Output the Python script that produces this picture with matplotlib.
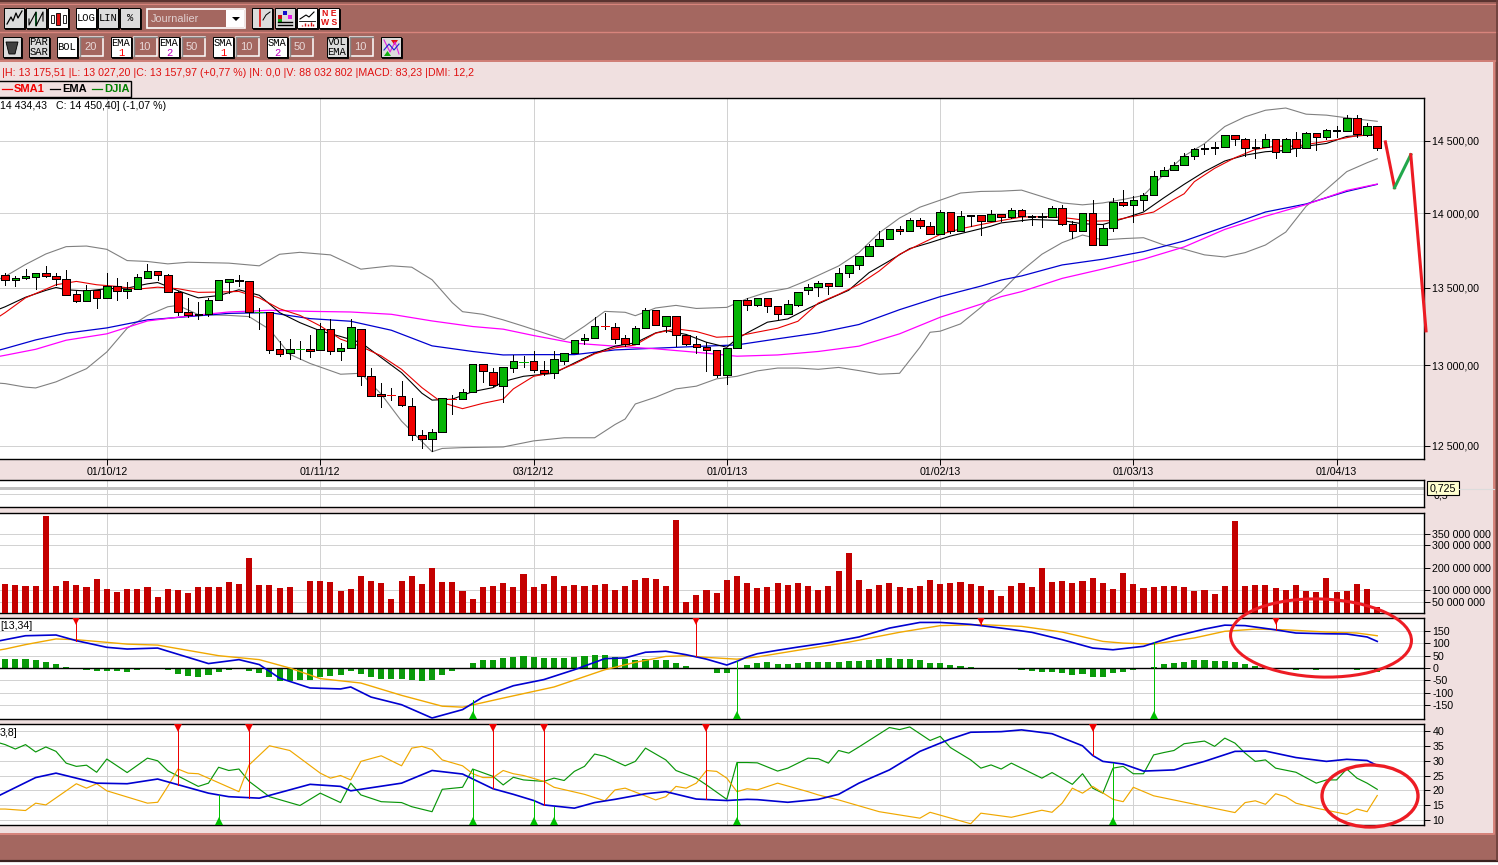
import matplotlib
matplotlib.use("Agg")
import matplotlib.pyplot as plt
from matplotlib.patches import Rectangle, Ellipse, Polygon

plt.rcParams['font.family'] = ['Liberation Sans', 'DejaVu Sans']
plt.rcParams['axes.unicode_minus'] = False

W, H = 1498, 865

# daily candles, DJIA
opens = [13586,13548,13562,13568,13597,13577,13557,13459,13412,13485,13432,13511,13476,13491,13564,13610,13584,13472,13344,13331,
         13331,13421,13537,13548,13544,13342,13344,13107,13079,13105,13107,13100,13235,13094,13113,13229,12935,12817,12816,12810,
         12748,12567,12542,12585,12788,12790,12833,13011,12960,12873,12981,13022,13030,12969,12950,13026,13077,13160,13173,13252,
         13244,13173,13139,13237,13353,13250,13315,13192,13139,13115,13096,12938,13109,13417,13389,13436,13378,13331,13389,13484,
         13504,13533,13511,13598,13651,13713,13777,13826,13893,13880,13953,13913,13860,14006,13880,13986,13986,13946,13993,13971,
         14021,13978,13978,13973,14035,13927,13880,14000,13787,13898,14076,14056,14090,14125,14257,14299,14333,14396,14444,14451,
         14458,14542,14514,14458,14458,14514,14424,14514,14449,14556,14528,14572,14572,14660,14544,14604]
highs = [13597,13577,13625,13597,13643,13597,13619,13476,13520,13485,13599,13566,13535,13592,13658,13610,13590,13480,13432,13406,
         13434,13551,13557,13586,13544,13370,13344,13158,13167,13154,13192,13269,13295,13141,13295,13229,12981,12892,12860,12900,
         12798,12598,12606,12796,12812,12850,13011,13011,12981,12987,13068,13058,13088,13026,13088,13077,13160,13201,13308,13336,
         13271,13194,13252,13368,13353,13315,13315,13200,13184,13147,13096,13109,13417,13430,13436,13436,13378,13417,13473,13522,
         13547,13533,13633,13653,13713,13793,13880,13893,13911,13966,13966,13940,14021,14006,14017,13986,13986,14021,13993,14035,
         14030,13985,14002,14046,14053,13944,14000,14086,13922,14104,14155,14116,14137,14287,14319,14354,14417,14451,14481,14491,
         14542,14542,14523,14516,14551,14514,14521,14563,14563,14556,14585,14609,14683,14683,14625,14604]
lows = [13520,13513,13557,13494,13568,13520,13451,13406,13412,13367,13432,13419,13436,13491,13564,13548,13472,13320,13312,13295,
        13316,13421,13466,13509,13308,13231,13077,13060,13040,13038,13051,13100,13070,13034,13113,12877,12810,12740,12781,12746,
        12538,12487,12467,12585,12696,12790,12833,12896,12867,12769,12960,12987,12960,12942,12921,13009,13077,13139,13173,13229,
        13143,13120,13139,13237,13256,13212,13122,13130,13077,12967,12925,12885,13109,13357,13378,13344,13288,13331,13382,13459,
        13447,13461,13511,13569,13622,13713,13777,13826,13857,13880,13897,13860,13860,13862,13880,13915,13853,13946,13944,13967,
        13949,13918,13904,13973,13918,13831,13880,13787,13787,13878,14046,13938,14023,14125,14257,14299,14333,14370,14405,14410,
        14458,14468,14396,14377,14458,14377,14424,14391,14449,14438,14516,14526,14572,14528,14532,14438]
closes = [13548,13564,13577,13597,13575,13555,13451,13412,13485,13432,13511,13476,13491,13570,13610,13581,13472,13344,13323,13323,
          13421,13551,13557,13542,13344,13344,13100,13075,13107,13107,13092,13235,13094,13113,13248,12935,12810,12810,12814,12754,
          12567,12542,12585,12796,12786,12833,13011,12965,12877,12987,13026,13024,12969,12954,13038,13077,13160,13173,13250,13250,
          13171,13139,13237,13353,13256,13315,13192,13139,13115,13096,12938,13109,13417,13389,13436,13382,13331,13391,13473,13507,
          13533,13511,13600,13653,13713,13777,13826,13893,13877,13953,13915,13860,14006,13877,13977,13982,13946,13993,13973,14021,
          13978,13971,13971,14035,13927,13880,14000,13787,13900,14076,14056,14090,14125,14257,14299,14333,14396,14444,14451,14458,
          14542,14514,14451,14451,14514,14424,14514,14449,14556,14526,14579,14579,14660,14546,14604,14451]

# overlays on the price panel, read every few sessions (the -1 point runs off the left edge)
bol_up_x = [-1,0,2,4,6,8,10,12,14,16,18,22,25,27,29,32,35,38,40,42,44,45,47,49,51,53,55,57,59,61,62,64,66,68,71,73,75,77,79,82,84,86,88,90,92,94,96,98,100,102,104,106,108,110,112,114,116,118,120,122,124,126,128,130,132,135]
bol_up = [13545,13575,13654,13724,13773,13777,13755,13680,13674,13658,13669,13663,13645,13722,13735,13718,13623,13645,13636,13553,13402,13344,13327,13291,13250,13207,13164,13250,13346,13340,13318,13368,13385,13365,13372,13429,13472,13496,13551,13644,13733,13866,13966,14040,14088,14137,14148,14150,14157,14113,14069,14056,14069,14093,14120,14266,14394,14481,14602,14671,14718,14734,14690,14683,14664,14639]
bol_lo_x = [-1,0,2,3,5,8,10,12,14,16,17,19,22,24,26,28,30,33,35,37,39,41,42,43,45,49,52,55,58,60,61,62,64,66,68,70,72,74,76,78,80,82,84,86,88,90,91,92,94,96,97,98,100,102,104,106,108,110,112,114,116,118,120,122,124,126,128,130,132,134,135]
bol_lo = [12890,12885,12863,12858,12896,12979,13085,13237,13320,13376,13385,13325,13320,13312,13230,13070,13012,12944,12950,12819,12652,12527,12465,12485,12490,12494,12531,12550,12550,12631,12665,12758,12800,12852,12869,12915,12931,12965,12983,12983,12975,12987,12967,12944,12950,13115,13211,13218,13265,13372,13436,13475,13611,13722,13800,13851,13818,13827,13833,13784,13756,13718,13704,13733,13784,13871,14046,14162,14285,14347,14375]
ema50_x = [-1,0,3,6,10,14,18,22,26,30,34,38,42,46,49,52,56,60,64,68,72,76,80,84,88,92,96,98,100,104,108,112,116,120,124,128,132,135]
ema50 = [13090,13107,13162,13205,13239,13291,13312,13333,13338,13299,13282,13224,13124,13088,13066,13068,13068,13098,13109,13120,13130,13169,13207,13261,13357,13442,13511,13551,13578,13651,13689,13740,13811,13907,14007,14062,14148,14197]
sma50_x = [-1,0,3,6,10,14,18,22,26,30,34,38,42,46,49,52,56,60,64,68,72,76,80,84,88,92,96,98,100,104,108,112,116,120,124,128,132,135]
sma50 = [13052,13064,13102,13160,13201,13284,13316,13342,13353,13346,13342,13327,13284,13248,13231,13190,13141,13122,13105,13083,13058,13066,13088,13122,13201,13308,13393,13442,13475,13562,13624,13689,13771,13889,13978,14058,14155,14199]
ema10_x = [-1,0,2,4,5,6,8,10,12,14,15,17,19,21,23,25,27,29,31,33,35,37,39,41,42,44,46,48,49,51,53,54,56,58,60,62,64,65,67,69,71,72,73,75,77,79,81,83,85,87,89,91,93,95,97,98,101,104,106,108,110,112,114,116,118,120,122,124,126,128,130,132,135]
ema10 = [13350,13376,13438,13483,13502,13487,13479,13494,13498,13526,13535,13481,13434,13449,13487,13451,13338,13273,13220,13184,13145,13049,12954,12825,12782,12788,12835,12860,12898,12931,12944,12950,13015,13077,13122,13143,13207,13222,13197,13147,13115,13169,13207,13276,13297,13365,13425,13484,13600,13678,13760,13800,13844,13877,13911,13933,13956,13949,13927,13922,13962,14007,14104,14197,14285,14359,14400,14424,14433,14463,14482,14532,14544]
sma10_x = [-1,0,2,4,5,7,9,11,13,15,17,19,21,23,25,27,29,31,33,35,37,39,41,43,45,47,49,50,52,54,56,58,60,62,64,66,68,70,72,74,76,78,80,82,84,86,88,90,92,94,96,98,100,103,105,107,109,111,113,115,116,117,119,121,123,125,127,129,131,133,135]
sma10 = [13295,13338,13434,13491,13520,13542,13520,13509,13491,13504,13494,13470,13472,13476,13434,13363,13320,13252,13167,13120,13060,12975,12860,12766,12729,12762,12788,12852,12931,12956,13009,13073,13111,13130,13205,13233,13216,13179,13186,13212,13237,13282,13400,13457,13522,13611,13722,13789,13855,13893,13922,13949,13973,13976,13962,13944,13949,13978,14007,14093,14132,14215,14308,14382,14440,14463,14463,14486,14509,14537,14544]
# hand-drawn scenario after the last session
scen1_x, scen1 = [135.8, 136.7], [14493, 14174]
scen2_x, scen2 = [136.7, 138.3], [14174, 14403]
scen3_x, scen3 = [138.3, 139.8], [14403, 13220]

volume = [128,124,119,119,432,119,141,124,115,150,106,93,106,106,115,71,106,101,88,115,115,115,137,128,243,124,124,110,115,0,
          141,141,137,97,106,163,141,132,62,141,163,128,199,137,137,97,62,115,119,132,115,172,115,128,163,119,124,119,124,128,
          101,119,146,154,150,119,415,49,79,101,88,146,163,132,110,115,132,124,132,119,101,119,185,265,146,106,124,132,115,110,
          119,146,128,132,137,128,119,101,75,119,132,115,199,137,141,132,141,154,132,106,176,128,110,115,119,119,115,97,101,84,
          119,410,119,124,124,110,101,124,97,93,154,93,97,128,106,25]

macd_hist = [38,38,38,34,26,18,5,-4,-8,-12,-13,-13,-17,-9,-5,-5,-9,-26,-34,-38,-30,-18,-9,-5,-13,-22,-38,-52,-54,-50,
             -50,-38,-32,-30,-13,-26,-38,-43,-43,-43,-50,-54,-50,-30,-14,0,22,34,34,41,46,50,46,42,42,42,46,50,54,54,
             46,38,34,38,34,34,22,9,0,-4,-22,-22,0,12,22,23,18,16,22,26,26,26,26,30,30,34,38,42,38,38,
             34,22,22,13,9,5,0,0,-4,-4,-8,-14,-18,-18,-22,-30,-26,-38,-38,-22,-18,-9,0,4,16,22,26,34,34,30,
             30,26,18,9,4,0,0,-8,-6,-8,-4,-4,0,-9,-5,-18]
macd_x = [-1,0,2,5,7,10,12,15,20,23,25,27,30,33,34,36,39,42,45,47,50,53,56,59,61,63,65,67,69,71,72,73,74,76,78,81,84,87,90,92,95,98,101,104,107,109,112,115,118,120,122,125,127,130,132,134,135]
macd = [107,115,131,134,111,84,77,81,18,34,14,-41,-81,-85,-77,-118,-149,-203,-169,-118,-72,-47,-7,38,41,64,68,54,36,12,27,45,58,72,85,103,126,162,185,185,177,162,145,115,81,74,88,128,158,174,172,155,142,139,138,126,108]
signal_x = [-1,0,2,5,7,12,15,21,25,28,31,35,39,43,45,49,54,59,62,65,67,69,72,74,78,83,88,92,96,100,104,108,110,113,117,120,123,126,130,133,135]
signal = [70,77,95,118,115,97,93,50,34,0,-43,-61,-111,-155,-159,-122,-77,-7,23,47,50,43,36,45,72,105,145,172,176,169,146,108,101,97,122,149,158,155,146,142,131]
macd_sell_x, macd_sell = [7,68,96,125], [111,47,176,155]
macd_buy_x, macd_buy = [46,72,113], [-131,27,105]

adx_x = [-1,0,3,5,9,12,15,20,22,25,30,33,34,39,42,45,48,50,52,53,56,58,60,63,65,68,71,73,74,77,80,82,84,87,90,93,95,98,100,103,106,107,108,110,112,115,118,121,124,127,130,132,134,135]
adx = [17.5,19.2,24.3,25.8,22.4,22.2,23.8,19.0,17.8,17.3,22.0,21.3,19.8,22.4,26.7,25.5,20.5,18.6,16.5,15.0,13.9,15.8,16.9,18.8,19.5,17.0,16.5,16.9,16.8,15.9,16.9,18.6,22.4,26.9,33.2,37.4,39.7,39.9,40.5,39.2,35.1,31.8,29.8,28.9,26.5,26.9,29.8,33.2,33.3,31.1,29.8,30.5,30.1,28.4]
di_plus_x = [-1,0,1,2,3,4,5,6,7,8,9,10,12,14,15,16,19,20,21,22,23,24,26,29,31,33,34,35,37,39,40,42,43,45,46,48,49,50,51,53,54,55,56,57,58,59,61,62,63,65,66,68,69,71,72,73,74,76,77,79,80,81,82,83,84,87,88,89,91,92,93,95,96,97,98,99,101,102,103,105,106,107,108,109,110,111,112,113,114,115,116,118,119,120,121,122,123,124,125,127,129,130,131,132,133,134,135]
di_plus = [36.5,35.5,34.0,35.5,33.0,34.7,33.2,29.2,28.1,28.5,26.1,30.6,26.0,30.9,30.0,26.6,21.3,22.4,27.8,26.7,27.2,23.0,17.8,14.8,19.0,15.8,22.4,18.4,16.1,15.8,14.4,12.7,20.3,21.0,27.2,24.7,21.8,24.4,23.5,23.0,24.1,23.3,26.4,28.1,32.3,31.5,28.3,29.8,34.3,30.3,26.7,24.1,21.8,16.9,29.4,29.4,29.3,26.5,27.5,30.9,30.7,29.2,33.5,32.6,34.7,41.3,40.6,41.5,36.9,38.3,34.5,30.3,27.5,28.6,27.2,29.2,25.8,24.1,26.0,22.0,25.6,20.7,19.0,27.5,28.1,25.6,25.6,32.0,32.8,33.5,35.8,36.7,34.9,37.7,36.0,32.6,29.8,30.3,27.5,26.1,22.4,23.5,23.5,27.2,24.1,22.4,20.3]
di_minus_x = [-1,0,2,3,4,7,8,9,10,14,15,16,17,18,19,23,24,26,28,31,32,33,34,35,37,39,40,41,42,43,45,46,47,48,49,50,51,53,54,57,59,60,61,64,65,66,67,68,69,70,71,72,73,74,76,79,80,82,86,90,91,95,96,99,102,103,104,105,106,107,109,110,111,113,121,122,123,124,125,126,127,129,132,133,134,135]
di_minus = [13.6,13.6,13.1,15.6,15.0,22.2,20.7,22.2,19.8,15.6,15.9,21.3,27.2,25.8,25.6,19.5,28.6,35.1,33.5,25.8,24.1,25.0,23.5,29.8,31.7,28.3,34.3,34.9,33.8,30.3,28.3,25.6,24.3,24.3,26.7,25.6,25.0,23.0,21.0,18.6,16.4,20.1,20.7,16.7,17.8,21.3,20.7,22.4,26.7,26.4,24.1,19.5,20.5,20.1,22.4,19.5,18.4,16.7,12.7,10.5,12.5,8.6,12.2,10.8,13.2,12.5,15.6,20.7,19.0,21.3,16.9,16.1,21.0,18.1,12.4,15.8,16.4,15.2,18.8,17.8,15.6,13.9,11.8,13.6,12.7,18.2]
dmi_sell_x, dmi_sell = [17,24,48,53,69,107], [21.8,17.3,20.7,15.0,16.9,31.8]
dmi_buy_x, dmi_buy = [21,46,52,54,72,109], [18.4,27.2,16.7,14.4,29.4,29.2]

month_idx = [10,31,52,71,92,111,131]
month_lbl = ['01/10/12','01/11/12','03/12/12','01/01/13','01/02/13','01/03/13','01/04/13']
price_ticks = [12500,13000,13500,14000,14500]
price_lbl = ['12 500,00','13 000,00','13 500,00','14 000,00','14 500,00']
vol_ticks = [50,100,200,300,350]
vol_lbl = ['50 000 000','100 000 000','200 000 000','300 000 000','350 000 000']
macd_ticks = [-150,-100,-50,0,50,100,150]
dmi_ticks = [10,15,20,25,30,35,40]

BROWN = '#a46760'
PINK = '#f0e0e0'
SALMON = '#d8847c'
GRID = '#d2d2d2'
RED = '#f00000'
GREEN = '#05b505'
ORANGE = '#f0a800'
BLUE = '#0000d0'
PAINT_RED = '#ed1c24'
PAINT_GREEN = '#22a84c'
XMIN, XMAX = -0.51, 139.6
FS = 7.65
THIN = 0.68


def panel(top, bottom):
    ax = fig.add_axes([0, 1 - bottom / H, 1424 / W, (bottom - top) / H], zorder=2)
    ax.set_xlim(XMIN, XMAX)
    ax.spines['left'].set_visible(False)
    ax.set_xticks(month_idx)
    ax.tick_params(axis='x', length=0, labelbottom=False)
    ax.yaxis.tick_right()
    ax.tick_params(axis='y', length=4, width=0.7, pad=2, labelsize=FS)
    ax.grid(True, color=GRID, lw=THIN, antialiased=False)
    ax.set_axisbelow(True)
    for s in ax.spines.values():
        s.set_linewidth(1.0)
    return ax


def arrows(ax, xs, ys, end, color, marker):
    ax.vlines(xs, ys, end, color=color, lw=THIN, antialiased=False, zorder=5)
    ax.plot(xs, [end] * len(xs), ls='', marker=marker, color=color, ms=6,
            mew=0, zorder=6)


def button(ax, x0, y0, x1, y1, fill='#dcdcdc', label=None, sub=None, subc='red'):
    ax.add_patch(Rectangle((x0 + 1, y0 + 1), x1 - x0, y1 - y0, fc='black', ec='black', lw=0.6))
    ax.add_patch(Rectangle((x0, y0), x1 - x0, y1 - y0, fc=fill, ec='black', lw=0.7))
    mono = ['Liberation Mono', 'DejaVu Sans Mono']
    if label and sub:
        ax.text((x0 + x1) / 2, y0 + 6.5, label, ha='center', va='center', fontsize=7.6, family=mono)
        ax.text((x0 + x1) / 2, y0 + 15.5, sub, ha='center', va='center', fontsize=7.6,
                color=subc, family=mono)
    elif label:
        ax.text((x0 + x1) / 2, (y0 + y1) / 2, label, ha='center', va='center', fontsize=7.6,
                family=mono, linespacing=0.95)


def field(ax, x0, y0, x1, y1, label):
    ax.add_patch(Rectangle((x0, y0), x1 - x0, y1 - y0, fc=BROWN, ec='white', lw=1.1))
    ax.plot([x0, x0, x1], [y1, y0, y0], color='#888888', lw=1.0)
    ax.text(x0 + 4, (y0 + y1) / 2, label, va='center', fontsize=8, color='#e8d8d8')


fig = plt.figure(figsize=(W / 100, H / 100), dpi=100, facecolor='white')

# window chrome, in pixel coordinates
bg = fig.add_axes([0, 0, 1, 1], zorder=0)
bg.set_xlim(0, W)
bg.set_ylim(H, 0)
bg.axis('off')
bg.add_patch(Rectangle((0, 0), W, 860, fc=BROWN, ec='none'))
bg.add_patch(Rectangle((0, 62), 1494, 771, fc=PINK, ec='none'))
bg.plot([0, 1494, 1494], [833.5, 833.5, 62], color=SALMON, lw=1.4)
bg.plot([0, W], [1, 1], color='#5a3330', lw=1.6)
bg.plot([0, W], [3.5, 3.5], color=SALMON, lw=0.8)
bg.plot([0, W], [32, 32], color=SALMON, lw=1.0)
bg.plot([0, W], [61, 61], color=SALMON, lw=1.2)
bg.plot([0, W], [860.5, 860.5], color='#3a2220', lw=1.6)
bg.plot([1497, 1497], [0, 860], color='#6b3f3a', lw=1.2)

button(bg, 4, 8, 24, 28)
button(bg, 26, 8, 46, 28)
button(bg, 48, 8, 68, 28, fill='white')
button(bg, 76, 8, 96, 28, fill='white', label='LOG')
button(bg, 98, 8, 118, 28, label='LIN')
button(bg, 120, 8, 140, 28, label='%')
bg.plot([7, 11, 13, 16, 18, 22], [24, 17, 21, 13, 18, 11], color='black', lw=0.9)
bg.plot([29, 29, 36, 36, 43, 43], [19, 25, 12, 26, 12, 21], color='black', lw=0.8)
bg.add_patch(Rectangle((34.5, 12), 2.5, 14, fc='#10a040', ec='none'))
bg.add_patch(Rectangle((56, 13), 4, 12, fc='#e01010', ec='black', lw=0.6))
bg.add_patch(Rectangle((51, 15), 3, 8, fc='white', ec='black', lw=0.6))
bg.add_patch(Rectangle((63, 15), 3, 8, fc='white', ec='black', lw=0.6))

bg.add_patch(Rectangle((147, 9), 98, 19, fc=BROWN, ec='white', lw=1.2))
bg.add_patch(Rectangle((226, 10), 18, 17, fc='white', ec='none'))
bg.add_patch(Polygon([[232, 17], [240, 17], [236, 21]], fc='black', ec='none'))
bg.text(151, 18.5, 'Journalier', va='center', fontsize=7.8, color='#e0d0d0')

button(bg, 252, 8, 272, 28)
button(bg, 275, 8, 295, 28)
button(bg, 297, 8, 317, 28, fill='white')
button(bg, 319, 8, 339, 28, fill='white')
bg.plot([260, 260], [10, 26], color='#e01010', lw=1.2)
bg.plot([263, 266, 270], [20, 15, 12], color='black', lw=0.7)
for c, x, y in [('#c81010', 278, 15), ('#1010c8', 283, 11), ('#e818e8', 288, 15), ('#10a010', 278, 19)]:
    bg.add_patch(Rectangle((x, y), 4, 4, fc=c, ec='none'))
bg.plot([278, 292], [22, 22], color='black', lw=1)
bg.plot([278, 292], [25, 25], color='black', lw=1)
bg.plot([300, 306, 309, 314], [19, 15, 17, 12], color='black', lw=0.8)
bg.plot([299, 315], [21, 21], color='black', lw=0.6)
bg.vlines([302, 305, 308, 311, 313], [25, 23, 24, 22, 24], 26, color='#d01010', lw=1)
bg.text(329, 13.5, 'N E', ha='center', va='center', color='#e01010', fontsize=6.2, weight='bold')
bg.text(329, 22.5, 'W S', ha='center', va='center', color='#e01010', fontsize=6.2, weight='bold')

button(bg, 3, 37, 21, 57, fill='#dcdcdc')
bg.add_patch(Polygon([[6, 42], [18, 42], [15, 54], [9, 54]], fc='#404040', ec='black', lw=0.6))
button(bg, 29, 37, 49, 57, label='PAR\nSAR')
button(bg, 57, 37, 77, 57, fill='white', label='BOL')
field(bg, 80, 37, 103, 56, '20')
button(bg, 111, 37, 131, 57, fill='white', label='EMA', sub='1')
field(bg, 134, 37, 157, 56, '10')
button(bg, 159, 37, 179, 57, fill='white', label='EMA', sub='2', subc='#c000c0')
field(bg, 182, 37, 205, 56, '50')
button(bg, 213, 37, 233, 57, fill='white', label='SMA', sub='1')
field(bg, 236, 37, 259, 56, '10')
button(bg, 267, 37, 287, 57, fill='white', label='SMA', sub='2', subc='#c000c0')
field(bg, 290, 37, 313, 56, '50')
button(bg, 327, 37, 347, 57, label='VOL\nEMA')
field(bg, 350, 37, 373, 56, '10')
button(bg, 381, 37, 401, 57)
bg.plot([384, 390, 395, 399], [40, 52, 42, 54], color='#e020e0', lw=0.8)
bg.plot([384, 389, 394, 399], [50, 44, 50, 44], color='#2020d0', lw=0.8)
bg.add_patch(Polygon([[391, 40], [398, 40], [394.5, 45]], fc='#e01010', ec='none'))
bg.add_patch(Polygon([[384, 56], [391, 56], [387.5, 51]], fc='#10b010', ec='none'))

bg.text(2, 73.5, '|H: 13 175,51 |L: 13 027,20 |C: 13 157,97 (+0,77 %) |N: 0,0 |V: 88 032 802 |MACD: 83,23 |DMI: 12,2',
        va='center', fontsize=FS, color='#e01010')
bg.add_patch(Rectangle((-2, 81), 133, 16, fc=PINK, ec='black', lw=1.0))
for lx, tx, name, col in [(2, 14, 'SMA1', '#f00000'), (50, 62, 'EMA', 'black'), (92, 104, 'DJIA', '#008000')]:
    bg.plot([lx, lx + 10], [89, 89], color=col, lw=0.9)
    bg.text(tx, 89, name, va='center', fontsize=8, weight='bold', color=col)

# price panel (log scale)
ax = panel(98, 459)
ax.set_yscale('log')
ax.set_ylim(12421, 14806)
ax.minorticks_off()
ax.set_yticks(price_ticks)
ax.set_yticklabels(price_lbl)
ax.tick_params(axis='x', length=4, width=0.7, labelbottom=True, labelsize=FS, pad=2)
ax.set_xticklabels(month_lbl)
ax.plot(bol_up_x, bol_up, color='#808080', lw=0.8, zorder=3)
ax.plot(bol_lo_x, bol_lo, color='#808080', lw=0.8, zorder=3)
ax.plot(ema50_x, ema50, color=BLUE, lw=0.9, zorder=3)
ax.plot(sma50_x, sma50, color='#ff00ff', lw=0.9, zorder=3)
ax.plot(ema10_x, ema10, color='black', lw=0.8, zorder=3)
ax.plot(sma10_x, sma10, color='#e80000', lw=0.8, zorder=3)
for i, (o, h, l, c) in enumerate(zip(opens, highs, lows, closes)):
    col = GREEN if c >= o else RED
    ax.vlines(i, l, h, color='black', lw=THIN, antialiased=False, zorder=4)
    if abs(c - o) <= 3:
        ax.hlines(c, i - 0.4, i + 0.4, color=col, lw=THIN, antialiased=False, zorder=5)
    else:
        ax.add_patch(Rectangle((i - 0.37, min(o, c)), 0.74, abs(c - o), fc=col, ec='black',
                               lw=THIN, antialiased=False, zorder=5))
ax.plot(scen1_x, scen1, color=PAINT_RED, lw=2.2, clip_on=False, zorder=7)
ax.plot(scen2_x, scen2, color=PAINT_GREEN, lw=2.2, clip_on=False, zorder=7)
ax.plot(scen3_x, scen3, color=PAINT_RED, lw=2.2, clip_on=False, zorder=7)
ax.text(0, 106, '14 434,43   C: 14 450,40] (-1,07 %)', transform=bg.transData, va='center',
        fontsize=FS, zorder=9)

# empty indicator strip
ax0 = panel(480, 507)
ax0.set_ylim(0.024, 1.036)
ax0.set_yticks([0.5, 0.725])
ax0.set_yticklabels(['0,5', ''])
ax0.tick_params(axis='y', length=0, pad=7)
ax0.axhline(0.725, color='#c0c0c0', lw=1.0, antialiased=False)

# volume
axv = panel(513, 613)
axv.set_ylim(0, 444)
axv.set_yticks(vol_ticks)
axv.set_yticklabels(vol_lbl)
axv.bar(range(len(volume)), volume, width=0.6, color='#c40000', antialiased=False, zorder=3)

# MACD
axm = panel(618, 719)
axm.set_ylim(-207, 203)
axm.set_yticks(macd_ticks)
axm.axhline(0, color='black', lw=1.0, zorder=4)
axm.bar(range(len(macd_hist)), macd_hist, width=0.6, color='#0a9a0a', antialiased=False, zorder=3)
axm.plot(signal_x, signal, color=ORANGE, lw=1.0, zorder=5)
axm.plot(macd_x, macd, color=BLUE, lw=1.2, zorder=5)
arrows(axm, macd_sell_x, macd_sell, 190, '#ee0000', 'v')
arrows(axm, macd_buy_x, macd_buy, -192, '#00c000', '^')
axm.text(0, 626, '[13,34]', transform=bg.transData, va='center', fontsize=FS, zorder=9)

# DMI
axd = panel(724, 825)
axd.set_ylim(8.18, 42.5)
axd.set_yticks(dmi_ticks)
axd.plot(di_plus_x, di_plus, color='#0a960a', lw=0.85, zorder=3)
axd.plot(di_minus_x, di_minus, color=ORANGE, lw=0.85, zorder=3)
axd.plot(adx_x, adx, color=BLUE, lw=1.2, zorder=4)
arrows(axd, dmi_sell_x, dmi_sell, 41.3, '#ee0000', 'v')
arrows(axd, dmi_buy_x, dmi_buy, 9.4, '#00c000', '^')
axd.text(0, 733, '3,8]', transform=bg.transData, va='center', fontsize=FS, zorder=9)

# paint-over marks and cursor label on top of everything
fg = fig.add_axes([0, 0, 1, 1], zorder=10)
fg.set_xlim(0, W)
fg.set_ylim(H, 0)
fg.axis('off')
fg.patch.set_alpha(0)
fg.plot([1459, 1494], [488.5, 488.5], color='#dcdcdc', lw=0.8)
fg.add_patch(Rectangle((1427, 481), 32, 14, fc='#ffffd0', ec='black', lw=0.8))
fg.text(1443, 488.3, '0,725', ha='center', va='center', fontsize=FS)
fg.add_patch(Ellipse((1321, 638), 181, 78, angle=2, fc='none', ec=PAINT_RED, lw=2.2))
fg.add_patch(Ellipse((1370, 796), 96, 62, fc='none', ec=PAINT_RED, lw=2.4))

fig.savefig('out.png', dpi=100)
